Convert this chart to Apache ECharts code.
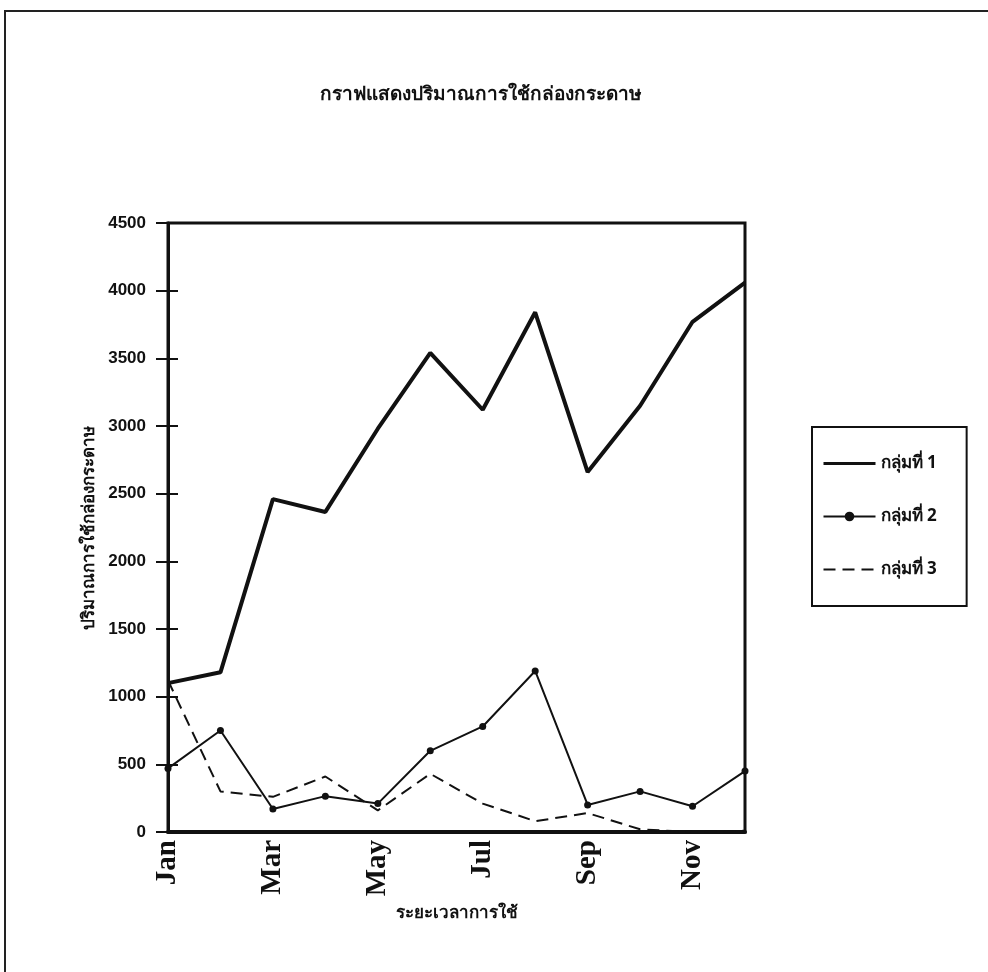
<!DOCTYPE html>
<html>
<head>
<meta charset="utf-8">
<script src="https://cdn.jsdelivr.net/npm/echarts@6/dist/echarts.min.js"></script>
<style>
  html, body { margin: 0; padding: 0; background: #fff; }
  #main { width: 988px; height: 972px; }
</style>
</head>
<body>
<div id="main"></div>
<script>
// months along the x axis
const months = ["Jan", "Feb", "Mar", "Apr", "May", "Jun", "Jul", "Aug", "Sep", "Oct", "Nov", "Dec"];
// values
const group1 = [1100, 1180, 2460, 2365, 2980, 3540, 3120, 3840, 2660, 3150, 3770, 4060];
const group2 = [470, 750, 170, 265, 210, 600, 780, 1190, 200, 300, 190, 450];
const group3 = [1120, 300, 260, 410, 160, 430, 210, 80, 140, 20, 0, 10];
const seriesNames = ["กลุ่มที่ 1", "กลุ่มที่ 2", "กลุ่มที่ 3"];

const thaiFont = "'Noto Sans', 'DejaVu Sans', sans-serif";

const myChart = echarts.init(document.getElementById("main"));
const option = {
  backgroundColor: "#fff",
  animation: false,
  title: {
    text: "กราฟแสดงปริมาณการใช้กล่องกระดาษ",
    left: 476,
    textAlign: "center",
    top: 80,
    textStyle: { fontSize: 19, fontWeight: "bold", color: "#111", fontFamily: thaiFont }
  },
  legend: {
    orient: "vertical",
    left: 812,
    top: 427,
    padding: [28, 30, 28, 10],
    itemGap: 36,
    itemWidth: 52,
    itemHeight: 12,
    borderColor: "#111",
    borderWidth: 2,
    data: [
      { name: seriesNames[0], itemStyle: { opacity: 0 }, lineStyle: { width: 3 } },
      { name: seriesNames[1] },
      { name: seriesNames[2], itemStyle: { opacity: 0 } }
    ],
    textStyle: { fontSize: 17, fontWeight: "bold", color: "#111", fontFamily: thaiFont }
  },
  grid: {
    left: 168,
    right: 243,
    top: 223,
    bottom: 140,
    show: true,
    borderColor: "#111",
    borderWidth: 3
  },
  xAxis: {
    type: "category",
    boundaryGap: false,
    data: months,
    name: "ระยะเวลาการใช้",
    nameLocation: "middle",
    nameGap: 60,
    nameTextStyle: { fontSize: 17, fontWeight: "bold", color: "#111", fontFamily: thaiFont },
    axisLine: { lineStyle: { color: "#111", width: 4 } },
    axisTick: { show: false },
    axisLabel: {
      interval: 1,
      rotate: 90,
      margin: 8,
      fontSize: 29,
      fontWeight: "bold",
      color: "#111",
      fontFamily: "'Liberation Serif', serif"
    },
    splitLine: { show: false }
  },
  yAxis: [
    {
      type: "value",
      min: 0,
      max: 4500,
      interval: 500,
      name: "ปริมาณการใช้กล่องกระดาษ",
      nameLocation: "middle",
      nameGap: 56,
      nameTextStyle: { fontSize: 17, fontWeight: "bold", color: "#111", fontFamily: thaiFont },
      axisLine: { show: true, lineStyle: { color: "#111", width: 3 } },
      axisTick: { show: true, length: 12, lineStyle: { color: "#111", width: 2 } },
      axisLabel: {
        margin: 22,
        fontSize: 17,
        fontWeight: "bold",
        color: "#111",
        fontFamily: "'Liberation Sans', Arial, sans-serif",
        formatter: function (v) { return String(v); }
      },
      splitLine: { show: false }
    },
    {
      type: "value",
      position: "left",
      min: 0,
      max: 4500,
      interval: 500,
      axisLine: { show: false },
      axisTick: { show: true, inside: true, length: 10, lineStyle: { color: "#111", width: 2 } },
      axisLabel: { show: false },
      splitLine: { show: false }
    }
  ],
  series: [
    {
      name: seriesNames[0],
      type: "line",
      data: group1,
      symbol: "none",
      lineStyle: { color: "#111", width: 4 },
      itemStyle: { color: "#111" }
    },
    {
      name: seriesNames[1],
      type: "line",
      data: group2,
      symbol: "circle",
      symbolSize: 7,
      lineStyle: { color: "#111", width: 2 },
      itemStyle: { color: "#111" }
    },
    {
      name: seriesNames[2],
      type: "line",
      data: group3,
      symbol: "none",
      lineStyle: { color: "#111", width: 2, type: [12, 7] },
      itemStyle: { color: "#111" }
    }
  ],
  graphic: [
    {
      type: "polyline",
      shape: { points: [[5, 972], [5, 11], [988, 11]] },
      style: { fill: "none", stroke: "#222", lineWidth: 2 },
      silent: true
    }
  ]
};
myChart.setOption(option);
</script>
</body>
</html>
